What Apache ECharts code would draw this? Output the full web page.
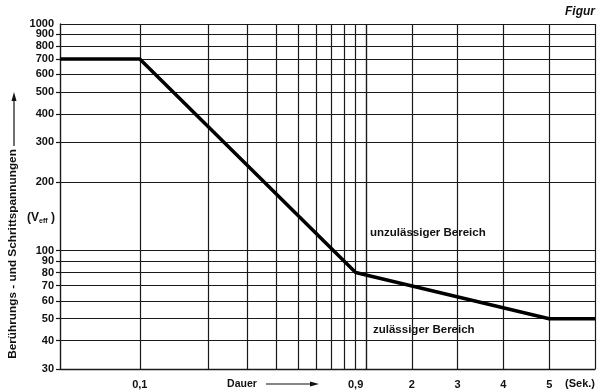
<!DOCTYPE html>
<html><head><meta charset="utf-8">
<script src="https://cdn.jsdelivr.net/npm/echarts@6/dist/echarts.min.js"></script>
<style>html,body{margin:0;padding:0;background:#fff}#c{width:600px;height:392px}</style>
</head><body><div id="c"></div>
<script>
const yTicks = [30,40,50,60,70,80,90,100,200,300,400,500,600,700,800,900,1000];
const yTopLabel = [1000];
const xLogTicks = [0.1,0.2,0.3,0.4,0.5,0.6,0.7,0.8,0.9,1];
const xLogLabels = [0.1, 0.9];
const xLinTicks = [1,2,3,4,5,6];
const xLinLabels = [2,3,4,5];
const curveLogX = [0.0444, 0.1, 0.9, 1];
const curveLogY = [700, 700, 80, 78];
const curveLinX = [1, 5, 6];
const curveLinY = [78, 50, 50];

const INK = '#111';
const GRID = '#1a1a1a';
const FONT = 'Liberation Sans, Arial, sans-serif';

const chart = echarts.init(document.getElementById('c'), null, {renderer: 'canvas'});
const splitLine = {show: true, showMinLine: true, showMaxLine: true, lineStyle: {color: GRID, width: 1.2}};
const yLabelStyle = {margin: 6, color: INK, fontFamily: FONT, fontSize: 11, fontWeight: 'bold',
                     formatter: v => String(Math.round(v))};

chart.setOption({
  animation: false,
  backgroundColor: '#fff',
  grid: [
    {left: 60, right: 234, top: 24, bottom: 23},
    {left: 366, right: 5, top: 24, bottom: 23}
  ],
  xAxis: [
    {type: 'log', gridIndex: 0, min: 0.0444, max: 1, logBase: 10,
     axisLine: {show: true, onZero: false, lineStyle: {color: GRID, width: 1.4}},
     axisTick: {show: false, customValues: xLogTicks},
     axisLabel: {customValues: xLogLabels, margin: 10, color: INK, fontFamily: FONT, fontSize: 11, fontWeight: 'bold',
                 formatter: v => String(v).replace('.', ',')},
     splitLine: splitLine},
    {type: 'value', gridIndex: 1, min: 1, max: 6, interval: 1,
     axisLine: {show: true, onZero: false, lineStyle: {color: GRID, width: 1.4}},
     axisTick: {show: false, customValues: xLinTicks},
     axisLabel: {customValues: xLinLabels, margin: 10, color: INK, fontFamily: FONT, fontSize: 11, fontWeight: 'bold'},
     splitLine: splitLine}
  ],
  yAxis: [
    {type: 'log', gridIndex: 0, position: 'left', min: 30, max: 1000, logBase: 10,
     axisLine: {show: true, lineStyle: {color: GRID, width: 1.4}},
     axisTick: {show: true, length: 4, customValues: yTicks, lineStyle: {color: GRID, width: 1.2}},
     axisLabel: Object.assign({customValues: yTicks, showMaxLabel: false, showMinLabel: true}, yLabelStyle),
     splitLine: splitLine},
    {type: 'log', gridIndex: 1, min: 30, max: 1000, logBase: 10,
     axisLine: {show: false},
     axisTick: {show: false, customValues: yTicks},
     axisLabel: {show: false, customValues: yTicks},
     splitLine: splitLine},
    {type: 'log', gridIndex: 0, position: 'left', offset: 0, min: 30, max: 1000, logBase: 10,
     axisLine: {show: false},
     axisTick: {show: false, customValues: yTopLabel},
     axisLabel: Object.assign({customValues: yTopLabel, showMaxLabel: true}, yLabelStyle),
     splitLine: {show: false}}
  ],
  series: [
    {type: 'line', xAxisIndex: 0, yAxisIndex: 0, symbol: 'none',
     lineStyle: {color: '#000', width: 3.5, join: 'round', cap: 'butt'},
     data: curveLogX.map((x, i) => [x, curveLogY[i]])},
    {type: 'line', xAxisIndex: 1, yAxisIndex: 1, symbol: 'none',
     lineStyle: {color: '#000', width: 3.5, join: 'round', cap: 'butt'},
     data: curveLinX.map((x, i) => [x, curveLinY[i]])}
  ],
  graphic: [
    {type: 'text', right: 5, top: 6, style: {text: 'Figur', font: 'italic bold 12px ' + FONT, fill: INK}},
    {type: 'text', x: 580, y: 384, style: {text: '(Sek.)', font: 'bold 11px ' + FONT, fill: INK, align: 'center', verticalAlign: 'middle'}},
    {type: 'text', x: 242, y: 384, style: {text: 'Dauer', font: 'bold 10.5px ' + FONT, fill: INK, align: 'center', verticalAlign: 'middle'}},
    {type: 'line', shape: {x1: 266, y1: 384, x2: 312, y2: 384}, style: {stroke: INK, lineWidth: 1.2}},
    {type: 'polygon', shape: {points: [[319, 384], [310, 381.5], [310, 386.5]]}, style: {fill: INK}},
    {type: 'text', x: 13, y: 254, rotation: Math.PI / 2,
     style: {text: 'Berührungs - und Schrittspannungen', font: 'bold 11.8px ' + FONT, fill: INK, align: 'center', verticalAlign: 'middle'}},
    {type: 'line', shape: {x1: 14, y1: 146, x2: 14, y2: 100}, style: {stroke: INK, lineWidth: 1.2}},
    {type: 'polygon', shape: {points: [[14, 92], [11.5, 101], [16.5, 101]]}, style: {fill: INK}},
    {type: 'text', x: 27, y: 218,
     style: {text: '(V{s|eff} )', font: 'bold 12px ' + FONT, fill: INK, verticalAlign: 'middle',
             rich: {s: {fontSize: 7, fontWeight: 'bold', fontFamily: FONT, fill: INK, padding: [6, 0, 0, 0]}}}},
    {type: 'text', x: 370, y: 233, style: {text: 'unzulässiger Bereich', font: 'bold 11.5px ' + FONT, fill: INK, verticalAlign: 'middle'}},
    {type: 'text', x: 373, y: 330, style: {text: 'zulässiger Bereich', font: 'bold 11.5px ' + FONT, fill: INK, verticalAlign: 'middle'}}
  ]
});
</script></body></html>
